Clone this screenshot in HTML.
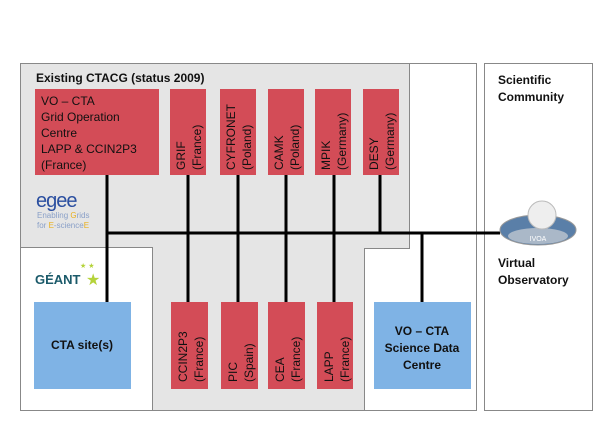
<!DOCTYPE html>
<html><head><meta charset="utf-8"><style>
body{margin:0;width:610px;height:431px;background:#fff;overflow:hidden;font-family:"Liberation Sans",sans-serif;}
</style></head><body>
<svg width="610" height="431" viewBox="0 0 610 431" xmlns="http://www.w3.org/2000/svg" font-family="Liberation Sans, sans-serif">
<rect x="20.5" y="63.5" width="456" height="347" fill="#fff" stroke="#888"/>
<path d="M20.5 63.5 H409.5 V248.5 H364.5 V410.5 H152.5 V247.5 H20.5 Z" fill="#e5e5e5" stroke="#888"/>
<rect x="484.5" y="63.5" width="108" height="347" fill="#fff" stroke="#888"/>
<text x="36" y="82" font-size="12" font-weight="bold" fill="#111">Existing CTACG (status 2009)</text>
<text x="498" y="84" font-size="12" font-weight="bold" fill="#111">Scientific</text>
<text x="498" y="101" font-size="12" font-weight="bold" fill="#111">Community</text>
<g stroke="#000" stroke-width="3">
<line x1="107" y1="175" x2="107" y2="302"/>
<line x1="188" y1="175" x2="188" y2="302"/>
<line x1="238" y1="175" x2="238" y2="302"/>
<line x1="286" y1="175" x2="286" y2="302"/>
<line x1="334" y1="175" x2="334" y2="302"/>
<line x1="380" y1="175" x2="380" y2="233"/>
<line x1="422" y1="233" x2="422" y2="302"/>
<line x1="107" y1="233" x2="500" y2="233"/>
</g>
<g fill="#d34c57">
<rect x="35" y="89" width="124" height="86"/>
<rect x="170" y="89" width="36" height="86"/>
<rect x="220" y="89" width="36" height="86"/>
<rect x="268" y="89" width="36" height="86"/>
<rect x="315" y="89" width="36" height="86"/>
<rect x="363" y="89" width="36" height="86"/>
<rect x="171" y="302" width="37" height="87"/>
<rect x="221" y="302" width="37" height="87"/>
<rect x="268" y="302" width="37" height="87"/>
<rect x="317" y="302" width="36" height="87"/>
</g>
<g font-size="12" fill="#111">
<text x="41" y="105">VO – CTA</text>
<text x="41" y="121">Grid Operation</text>
<text x="41" y="137">Centre</text>
<text x="41" y="153">LAPP &amp; CCIN2P3</text>
<text x="41" y="169">(France)</text>
<text transform="translate(185,170) rotate(-90)">GRIF</text>
<text transform="translate(201,170) rotate(-90)">(France)</text>
<text transform="translate(235,170) rotate(-90)">CYFRONET</text>
<text transform="translate(251,170) rotate(-90)">(Poland)</text>
<text transform="translate(283,170) rotate(-90)">CAMK</text>
<text transform="translate(299,170) rotate(-90)">(Poland)</text>
<text transform="translate(330,170) rotate(-90)">MPIK</text>
<text transform="translate(346,170) rotate(-90)">(Germany)</text>
<text transform="translate(378,170) rotate(-90)">DESY</text>
<text transform="translate(394,170) rotate(-90)">(Germany)</text>
<text transform="translate(187,382) rotate(-90)">CCIN2P3</text>
<text transform="translate(203,382) rotate(-90)">(France)</text>
<text transform="translate(237,382) rotate(-90)">PIC</text>
<text transform="translate(253,382) rotate(-90)">(Spain)</text>
<text transform="translate(284,382) rotate(-90)">CEA</text>
<text transform="translate(300,382) rotate(-90)">(France)</text>
<text transform="translate(333,382) rotate(-90)">LAPP</text>
<text transform="translate(349,382) rotate(-90)">(France)</text>
</g>
<rect x="34" y="302" width="97" height="87" fill="#7fb3e5"/>
<rect x="374" y="302" width="97" height="87" fill="#7fb3e5"/>
<g font-size="12" font-weight="bold" fill="#111" text-anchor="middle">
<text x="82" y="349">CTA site(s)</text>
<text x="422" y="335">VO – CTA</text>
<text x="422" y="352">Science Data</text>
<text x="422" y="369">Centre</text>
</g>
<text x="498" y="267" font-size="12" font-weight="bold" fill="#111">Virtual</text>
<text x="498" y="284" font-size="12" font-weight="bold" fill="#111">Observatory</text>
<text x="36" y="207" font-size="20" fill="#2b4fa0" letter-spacing="-1">egee</text>
<text x="37" y="218" font-size="8" fill="#8aa0c8">Enabling <tspan fill="#e8b020">G</tspan>rids</text>
<text x="37" y="228" font-size="8" fill="#8aa0c8">for <tspan fill="#e8b020">E</tspan>-science<tspan fill="#e8b020">E</tspan></text>
<text x="35" y="284" font-size="13" font-weight="bold" fill="#1b5a6a">GÉANT</text>
<text x="86" y="285" font-size="16" fill="#b5d33a">★</text>
<text x="80" y="268" font-size="7" fill="#b5d33a">★ ★</text>
<ellipse cx="538" cy="230" rx="38" ry="15" fill="#5a7fa8" stroke="#999"/>
<ellipse cx="538" cy="236" rx="30" ry="8" fill="#aab8c8"/>
<circle cx="542" cy="215" r="14" fill="#eee" stroke="#bbb"/>
<text x="538" y="241" font-size="7" fill="#fff" text-anchor="middle">IVOA</text>
</svg>
</body></html>
